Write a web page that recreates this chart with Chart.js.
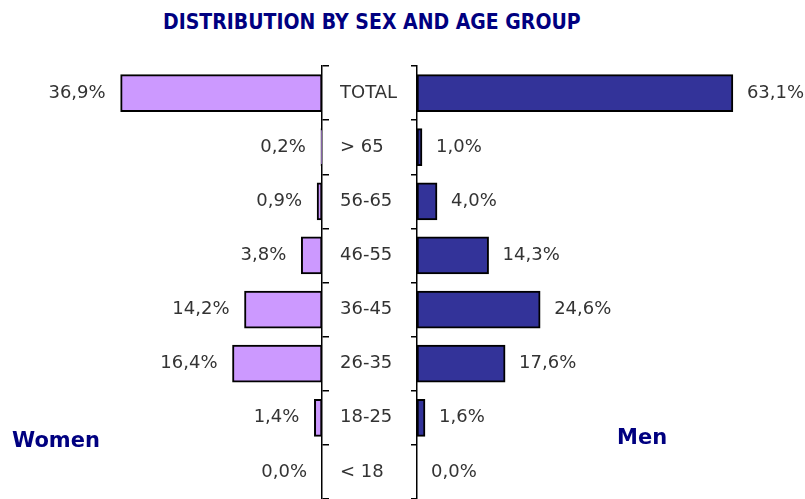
<!DOCTYPE html>
<html>
<head>
<meta charset="utf-8">
<script src="https://cdn.jsdelivr.net/npm/chart.js@4.4.1/dist/chart.umd.min.js"></script>
<style>
  html, body { margin: 0; padding: 0; background: #fff; }
  body { width: 805px; height: 499px; position: relative; overflow: hidden; }
  #title { position: absolute; left: 163px; top: 10px;
    font-family: "DejaVu Sans Condensed", "DejaVu Sans", sans-serif; font-weight: bold;
    font-size: 21px; color: #000080; white-space: nowrap; }
  .side { position: absolute; font-family: "DejaVu Sans", sans-serif; font-weight: bold;
    font-size: 21px; color: #000080; white-space: nowrap; }
  #women { left: 12px; top: 428px; }
  #men { left: 617px; top: 425px; }
  #leftWrap { position: absolute; left: 0; top: 0; width: 329px; height: 499px; }
  #rightWrap { position: absolute; left: 340px; top: 0; width: 465px; height: 499px; }
</style>
</head>
<body>
<div id="title">DISTRIBUTION BY SEX AND AGE GROUP</div>
<div id="leftWrap"><canvas id="left"></canvas></div>
<div id="rightWrap"><canvas id="right"></canvas></div>
<div class="side" id="women">Women</div>
<div class="side" id="men">Men</div>
<script>
const categories = ["TOTAL", "> 65", "56-65", "46-55", "36-45", "26-35", "18-25", "< 18"];
const women = [36.9, 0.2, 0.9, 3.8, 14.2, 16.4, 1.4, 0.0];
const men = [63.1, 1.0, 4.0, 14.3, 24.6, 17.6, 1.6, 0.0];

const fmt = v => v.toFixed(1).replace('.', ',') + '%';
const labelFont = '18px "DejaVu Sans", sans-serif';

const valueLabels = {
  id: 'valueLabels',
  afterDatasetsDraw(chart, args, opts) {
    const ctx = chart.ctx;
    const meta = chart.getDatasetMeta(0);
    const data = chart.data.datasets[0].data;
    ctx.save();
    ctx.font = labelFont;
    ctx.fillStyle = '#333333';
    ctx.textBaseline = 'middle';
    meta.data.forEach((bar, i) => {
      if (opts.side === 'left') {
        ctx.textAlign = 'right';
        ctx.fillText(fmt(data[i]), bar.x - 15, bar.y);
      } else {
        ctx.textAlign = 'left';
        ctx.fillText(fmt(data[i]), bar.x + 14, bar.y);
      }
    });
    ctx.restore();
  }
};

const noPad = scale => { scale.paddingTop = 0; scale.paddingBottom = 0; };

Chart.defaults.animation = false;

new Chart(document.getElementById('left'), {
  type: 'bar',
  data: {
    labels: categories,
    datasets: [{
      data: women,
      backgroundColor: '#CC99FF',
      borderColor: '#000000',
      borderWidth: 2,
      borderSkipped: false,
      barThickness: 37
    }]
  },
  options: {
    indexAxis: 'y',
    responsive: true,
    maintainAspectRatio: false,
    layout: { padding: { top: 66, left: 0, right: 0, bottom: 0 } },
    plugins: { legend: { display: false }, tooltip: { enabled: false }, valueLabels: { side: 'left' } },
    scales: {
      x: { display: false, reverse: true, min: 0, max: 59 },
      y: {
        position: 'right',
        afterFit: noPad,
        ticks: { display: false },
        grid: { drawOnChartArea: false, drawTicks: true, tickLength: 7, color: '#000', lineWidth: 1.5 },
        border: { display: true, color: '#000', width: 1.5 }
      }
    }
  },
  plugins: [valueLabels]
});

new Chart(document.getElementById('right'), {
  type: 'bar',
  data: {
    labels: categories,
    datasets: [{
      data: men,
      backgroundColor: '#333399',
      borderColor: '#000000',
      borderWidth: 2,
      borderSkipped: false,
      barThickness: 37
    }]
  },
  options: {
    indexAxis: 'y',
    responsive: true,
    maintainAspectRatio: false,
    layout: { padding: { top: 66, left: 0, right: 0, bottom: 0 } },
    plugins: { legend: { display: false }, tooltip: { enabled: false }, valueLabels: { side: 'right' } },
    scales: {
      x: { display: false, min: 0, max: 77.5 },
      y: {
        position: 'left',
        afterFit(scale) { scale.width = 77; noPad(scale); },
        ticks: { crossAlign: 'far', color: '#333333', font: { family: '"DejaVu Sans", sans-serif', size: 18 } },
        grid: { drawOnChartArea: false, drawTicks: true, tickLength: 6, color: '#000', lineWidth: 1.5 },
        border: { display: true, color: '#000', width: 1.5 }
      }
    }
  },
  plugins: [valueLabels]
});
</script>
</body>
</html>
